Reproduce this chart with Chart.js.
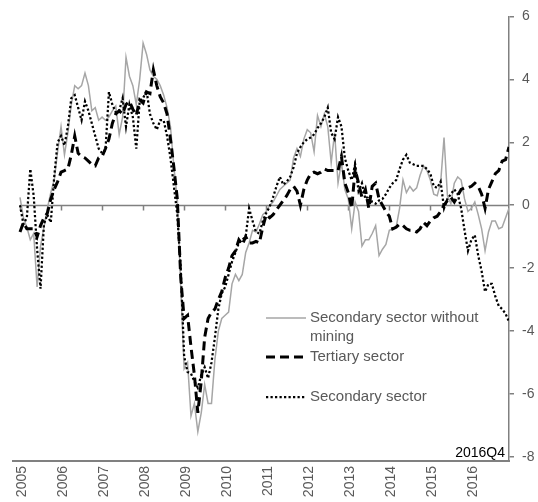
<!DOCTYPE html>
<html>
<head>
<meta charset="utf-8">
<title>Secondary and tertiary sector</title>
<script src="https://cdn.jsdelivr.net/npm/chart.js"></script>
<style>
    html, body { margin: 0; padding: 0; background: #fff; }
    .wrap { width: 538px; height: 502px; position: relative; }
</style>
</head>
<body>
<div class="wrap"><canvas id="chart"></canvas></div>
<script>
// Monthly data, Jan 2005 - Dec 2016
const years = ['2005','2006','2007','2008','2009','2010','2011','2012','2013','2014','2015','2016'];

const secNoMining = [
    0.25, -0.4, -0.7, -1.1, -0.9, -2.6, -1.3, -0.7, -0.1, 0.4, 0.8, 1.7,
    2.5, 1.6, 2.3, 3.2, 3.8, 3.7, 3.8, 4.2, 3.8, 3.0, 3.1, 2.7,
    2.8, 2.7, 2.8, 3.0, 3.15, 2.25, 2.8, 4.7, 4.1, 3.8, 3.2, 4.0,
    5.15, 4.8, 4.3, 4.1, 4.0, 3.8, 3.5, 3.1, 2.5, 1.2, 0.2, -2.6,
    -5.2, -5.0, -6.7, -6.3, -7.2, -6.6, -5.7, -6.3, -6.3, -4.9, -4.0, -3.6,
    -3.5, -3.4, -2.5, -2.2, -2.4, -2.2, -1.5, -1.2, -0.8, -0.85, -0.6, -0.3,
    -0.2, 0.0, 0.1, 0.3, 0.5, 0.6, 0.7, 0.8, 1.5, 1.8, 1.55, 2.1,
    2.4, 2.3, 1.7, 2.85, 2.5, 2.9, 2.5, 1.35, 2.3, 0.7, 1.35, 0.5,
    0.2, -0.75, 0.1, -0.2, -1.3, -1.1, -1.1, -0.9, -0.65, -1.6, -1.4, -1.25,
    -0.8, -0.75, -0.7, -0.1, 0.8, 0.4, 0.6, 0.45, 0.55, 0.95, 1.25, 1.1,
    0.8, 0.35, 0.3, 0.7, 2.15, 0.3, 0.05, 0.7, 0.9, 0.8, 0.2, -0.2,
    -0.1, 0.1, -0.3, -0.75, -1.45, -0.85, -0.5, -0.5, -0.75, -0.7, -0.4, -0.1
];

const tertiary = [
    -0.85, -0.55, -0.75, -0.75, -0.75, -1.0, -0.65, -0.4, -0.25, 0.2, 0.5, 0.75,
    1.05, 1.1, 1.15, 1.6, 2.2, 1.65, 1.55, 1.5, 1.4, 1.3, 1.25, 1.5,
    1.55, 1.8, 2.1, 2.6, 2.9, 3.0, 2.9, 3.2, 3.3, 3.05, 2.85, 3.35,
    3.25, 3.6, 3.55, 4.3, 3.8, 3.45, 3.25, 2.9, 2.1, 1.2, 0.2, -2.3,
    -3.6, -3.5, -4.5, -5.4, -6.6, -5.6, -4.2, -3.6, -3.4, -3.3, -3.0, -2.75,
    -2.3, -2.0, -1.6, -1.45, -1.1, -1.25, -1.0, -1.2, -1.2, -1.15, -1.2, -0.7,
    -0.3, -0.4, -0.3, -0.15, 0.0, 0.15, 0.3, 0.5, 0.6, 0.45, 0.0, 0.5,
    0.8, 1.0, 1.05, 1.0, 1.05, 1.15, 1.1, 1.1, 1.1, 1.1, 1.55, 0.7,
    0.4, -0.1, 1.15, 0.7, 0.25, 0.5, -0.1, 0.6, 0.7, 0.2, 0.0, -0.2,
    -0.35, -0.75, -0.7, -0.6, -0.65, -0.75, -0.8, -0.8, -0.85, -0.75, -0.55, -0.65,
    -0.5, -0.4, -0.35, -0.2, 0.0, 0.15, 0.25, 0.1, 0.3, 0.5, 0.55, 0.55,
    0.6, 0.7, 0.6, 0.35, -0.1, 0.5, 0.75, 1.0, 1.1, 1.4, 1.45, 1.85
];

const secondary = [
    0.0, -0.6, -0.4, 1.15, 0.3, -1.4, -2.65, -0.6, -0.3, -0.55, 0.9, 2.0,
    2.2, 1.9, 2.5, 3.4, 3.5, 3.1, 2.7, 3.3, 3.0, 2.6, 2.2, 1.8,
    1.65, 1.75, 3.6, 3.2, 2.95, 3.0, 3.4, 2.5, 3.2, 2.8, 1.8, 3.3,
    3.4, 3.65, 2.9, 2.6, 2.4, 2.7, 2.7, 2.2, 1.5, 0.6, -0.3, -2.0,
    -4.8, -5.3, -5.35, -5.6, -5.8, -5.4, -5.15, -5.5, -5.0, -4.2, -3.3, -2.8,
    -2.6, -2.2, -1.8, -1.5, -1.2, -1.1, -1.0, -0.1, -0.5, -0.85, -0.9, -0.5,
    -0.25, -0.05, 0.25, 0.6, 0.9, 0.65, 0.75, 0.9, 1.2, 1.65, 1.85, 2.0,
    2.1, 2.15, 2.25, 2.45, 2.6, 2.8, 3.1, 2.3, 2.1, 2.8, 2.5, 1.5,
    1.1, 0.8, 1.3, 0.45, 0.7, 0.2, 0.3, 0.1, 0.05, 0.15, 0.2, 0.35,
    0.55, 0.7, 0.8, 1.15, 1.45, 1.6, 1.35, 1.3, 1.25, 1.25, 1.25, 1.15,
    1.0, 0.6, 0.55, 0.75, -0.1, 0.2, 0.35, 0.5, 0.35, -0.1, -0.8, -1.45,
    -1.1, -0.95, -1.6, -2.1, -2.75, -2.5, -2.5, -2.9, -3.2, -3.3, -3.45, -3.7
];

const yTicks = [-8, -6, -4, -2, 0, 2, 4, 6];
const legendLines = [['Secondary sector without', 'mining'], ['Tertiary sector'], ['Secondary sector']];
const lastPeriod = '2016Q4';

const FONT = "'Liberation Sans', Arial, sans-serif";
const AXIS = '#808080';
const TEXT = '#595959';

const toPoints = arr => arr.map((v, i) => ({ x: i, y: v }));

// zero line with yearly tick marks
const zeroLine = {
    id: 'zeroLine',
    beforeDatasetsDraw(chart) {
        const { ctx, chartArea, scales: { x, y } } = chart;
        const y0 = Math.round(y.getPixelForValue(0)) + 0.5;
        ctx.save();
        ctx.strokeStyle = AXIS;
        ctx.lineWidth = 1.5;
        ctx.beginPath();
        ctx.moveTo(x.getPixelForValue(0), y0);
        ctx.lineTo(chartArea.right, y0);
        years.forEach((_, k) => {
            const px = Math.round(x.getPixelForValue(k * 12)) + 0.5;
            ctx.moveTo(px, y0);
            ctx.lineTo(px, y0 + 5);
        });
        ctx.stroke();
        ctx.restore();
    }
};

// legend inside the plot + period note
const legendBox = {
    id: 'legendBox',
    afterDraw(chart) {
        const { ctx, chartArea } = chart;
        const rowsY = [318, 357, 397];
        ctx.save();
        chart.data.datasets.forEach((ds, i) => {
            const ly = rowsY[i];
            ctx.strokeStyle = ds.borderColor;
            ctx.lineWidth = ds.borderWidth;
            ctx.setLineDash(ds.borderDash || []);
            ctx.beginPath();
            ctx.moveTo(266, ly);
            ctx.lineTo(306, ly);
            ctx.stroke();
            ctx.setLineDash([]);
            ctx.fillStyle = TEXT;
            ctx.font = '15px ' + FONT;
            ctx.textBaseline = 'middle';
            ctx.textAlign = 'left';
            legendLines[i].forEach((t, j) => ctx.fillText(t, 310, ly + j * 19));
        });
        ctx.fillStyle = '#000';
        ctx.font = '14px ' + FONT;
        ctx.textAlign = 'right';
        ctx.textBaseline = 'alphabetic';
        ctx.fillText(lastPeriod, chartArea.right - 4, 457);
        ctx.restore();
    }
};

new Chart(document.getElementById('chart'), {
    type: 'line',
    data: {
        datasets: [{
            label: legendLines[0].join(' '),
            data: toPoints(secNoMining),
            borderColor: '#a6a6a6',
            borderWidth: 1.5,
            order: 3
        }, {
            label: legendLines[1][0],
            data: toPoints(tertiary),
            borderColor: '#000',
            borderWidth: 3,
            borderDash: [9, 5],
            order: 1
        }, {
            label: legendLines[2][0],
            data: toPoints(secondary),
            borderColor: '#000',
            borderWidth: 2.25,
            borderDash: [2.25, 2.25],
            order: 2
        }]
    },
    options: {
        responsive: true,
        maintainAspectRatio: false,
        animation: false,
        events: [],
        elements: {
            point: { radius: 0 },
            line: { tension: 0, fill: false, borderCapStyle: 'butt' }
        },
        layout: { padding: { top: 13, left: 13, right: 0, bottom: 0 } },
        plugins: {
            legend: { display: false },
            tooltip: { enabled: false }
        },
        scales: {
            x: {
                type: 'linear',
                position: 'bottom',
                min: -2.05,
                max: 143,
                grid: { display: false, drawTicks: false },
                border: { display: true, color: AXIS, width: 2 },
                afterBuildTicks: scale => {
                    scale.ticks = years.map((_, k) => ({ value: k * 12 + 0.5 }));
                },
                afterFit: scale => { scale.height = 41; },
                ticks: {
                    autoSkip: false,
                    minRotation: 90,
                    maxRotation: 90,
                    padding: 5,
                    color: TEXT,
                    font: { family: FONT, size: 14 },
                    callback: (v, i) => years[i]
                }
            },
            y: {
                position: 'right',
                min: -8.13,
                max: 6,
                afterBuildTicks: scale => {
                    scale.ticks = yTicks.map(v => ({ value: v }));
                },
                afterFit: scale => { scale.width = 29; },
                grid: { display: true, drawOnChartArea: false, drawTicks: true, tickLength: 5, color: AXIS, lineWidth: 1.5 },
                border: { display: true, color: AXIS, width: 1.5 },
                ticks: {
                    padding: 8,
                    color: TEXT,
                    font: { family: FONT, size: 14 }
                }
            }
        }
    },
    plugins: [zeroLine, legendBox]
});
</script>
</body>
</html>
